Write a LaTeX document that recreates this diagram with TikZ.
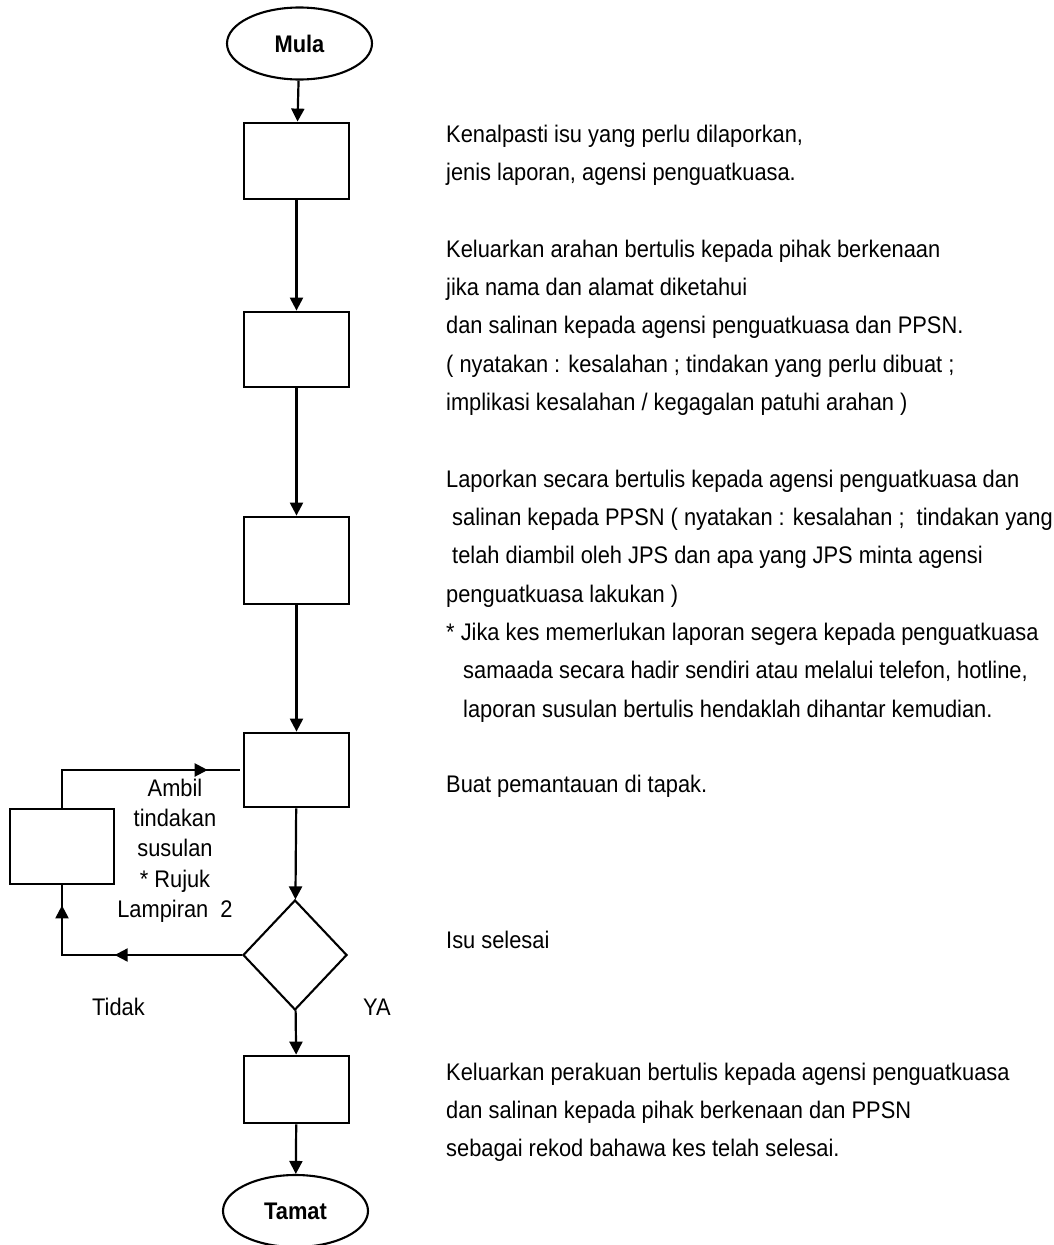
\documentclass[tikz,border=0pt]{standalone}
\usepackage{fontspec}
\setmainfont[FakeStretch=0.91]{Liberation Sans}
\usetikzlibrary{shapes.geometric,arrows.meta,decorations.markings}
\begin{document}
\begin{tikzpicture}[x=1pt,y=-1pt,
  box/.style={draw, line width=2.8pt, minimum width=105pt, inner sep=0pt},
  term/.style={draw, ellipse, line width=2.1pt, minimum width=145pt, minimum height=72pt, inner sep=0pt, font=\bfseries\fontsize{24}{29}\selectfont},
  dec/.style={draw, diamond, line width=2.1pt, minimum width=104pt, minimum height=110pt, inner sep=0pt},
  tip/.style={-{Triangle[length=13pt,width=13pt]}},
  flow/.style={line width=2.2pt, tip},
  txt/.style={anchor=base west, inner sep=0pt, font=\fontsize{24}{29}\selectfont},
  lab/.style={anchor=base, inner sep=0pt, font=\fontsize{24}{29}\selectfont}
]
\useasboundingbox[fill=white] (0,0) rectangle (1053,1245);

% flow nodes
\node[term] (mula) at (299.5,43.5) {Mula};
\node[box, minimum height=76pt] (b1) at (296.5,161) {};
\node[box, minimum height=75pt] (b2) at (296.5,349.5) {};
\node[box, minimum height=87pt] (b3) at (296.5,560.5) {};
\node[box, minimum height=74pt] (b4) at (296.5,770) {};
\node[box, minimum width=104pt, minimum height=75pt] (b5) at (62,846.5) {};
\node[dec] (d) at (295,955) {};
\node[box, minimum height=67pt] (b6) at (296.5,1089.5) {};
\node[term] (tamat) at (295.5,1211) {Tamat};

% main connectors
\draw[flow] (mula) -- (b1);
\draw[flow] (b1) -- (b2);
\draw[flow] (b2) -- (b3);
\draw[flow] (b3) -- (b4);
\draw[flow] (b4) -- (d);
\draw[flow] (d) -- (b6);
\draw[flow] (b6) -- (tamat);

% loop back
\draw[line width=2.2pt, postaction={decorate},
  decoration={markings,
    mark=at position 0.51 with {\arrow{Triangle[length=13pt,width=13pt]}},
    mark=at position 0.92 with {\arrow{Triangle[length=13pt,width=13pt]}}}]
  (d.west) -| (b5.south);
\draw[line width=2.2pt, shorten >=3pt, postaction={decorate},
  decoration={markings,
    mark=at position 0.84 with {\arrow{Triangle[length=13pt,width=13pt]}}}]
  (b5.north) |- (b4.west);

% loop label
\node[lab] (l1) at (175,796) {Ambil};
\node[lab] (l2) at (175,826) {tindakan};
\node[lab] (l3) at (175,856) {susulan};
\node[lab] (l4) at (175,887) {* Rujuk};
\node[lab] (l5) at (175,917) {Lampiran\ \ 2};
\node[txt] (tidak) at (92,1015) {Tidak};
\node[txt] (ya) at (363,1015) {YA};

% descriptions
\node[txt] (t1) at (446,142) {Kenalpasti isu yang perlu dilaporkan,};
\node[txt] (t2) at (446,180) {jenis laporan, agensi penguatkuasa.};
\node[txt] (t3) at (446,257) {Keluarkan arahan bertulis kepada pihak berkenaan};
\node[txt] (t4) at (446,295) {jika nama dan alamat diketahui};
\node[txt] (t5) at (446,333) {dan salinan kepada agensi penguatkuasa dan PPSN.};
\node[txt] (t6) at (446,372) {( nyatakan : kesalahan ; tindakan yang perlu dibuat ;};
\node[txt] (t7) at (446,410) {implikasi kesalahan / kegagalan patuhi arahan )};
\node[txt] (t8) at (446,487) {Laporkan secara bertulis kepada agensi penguatkuasa dan};
\node[txt] (t9) at (452,525) {salinan kepada PPSN ( nyatakan : kesalahan ;\ \ tindakan yang};
\node[txt] (t10) at (452,563) {telah diambil oleh JPS dan apa yang JPS minta agensi};
\node[txt] (t11) at (446,602) {penguatkuasa lakukan )};
\node[txt] (t12) at (446,640) {* Jika kes memerlukan laporan segera kepada penguatkuasa};
\node[txt] (t13) at (463,678) {samaada secara hadir sendiri atau melalui telefon, hotline,};
\node[txt] (t14) at (463,717) {laporan susulan bertulis hendaklah dihantar kemudian.};
\node[txt] (t15) at (446,792) {Buat pemantauan di tapak.};
\node[txt] (t16) at (446,948) {Isu selesai};
\node[txt] (t17) at (446,1080) {Keluarkan perakuan bertulis kepada agensi penguatkuasa};
\node[txt] (t18) at (446,1118) {dan salinan kepada pihak berkenaan dan PPSN};
\node[txt] (t19) at (446,1156) {sebagai rekod bahawa kes telah selesai.};
\end{tikzpicture}
\end{document}
